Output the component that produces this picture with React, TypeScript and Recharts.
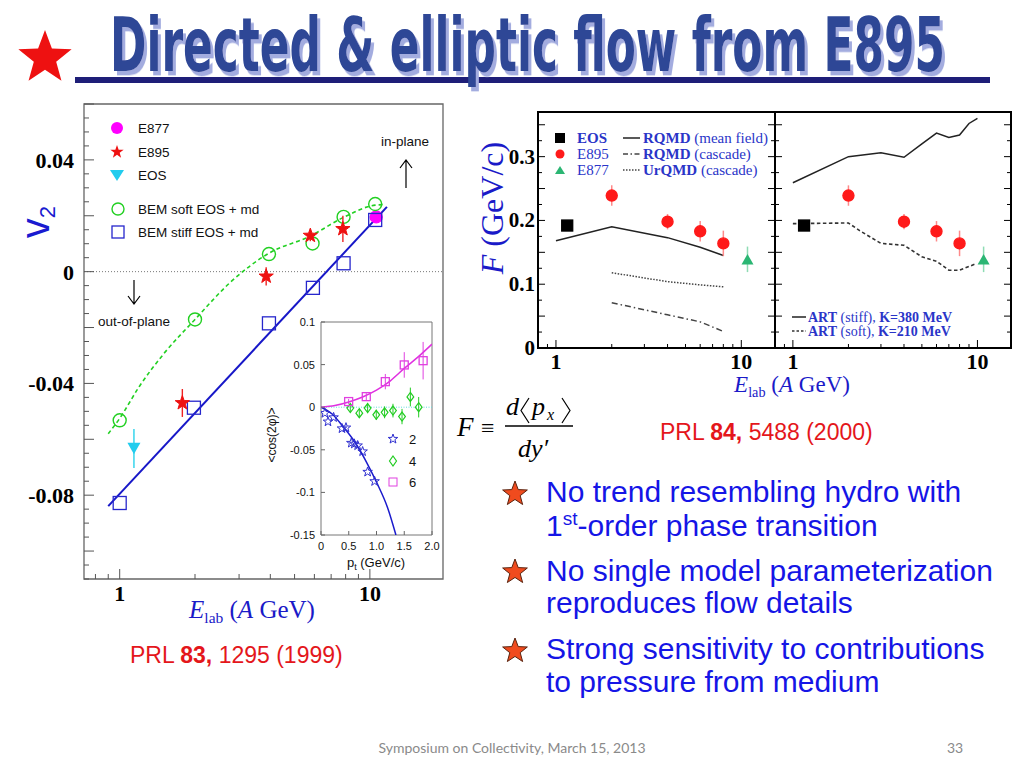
import React from 'react'
import {
  ComposedChart,
  Line,
  Scatter,
  XAxis,
  YAxis,
  ErrorBar,
  ReferenceArea,
  ReferenceLine,
} from 'recharts'

const SERIF = '"Liberation Serif", "DejaVu Serif", serif'
const SANS = '"Liberation Sans", Arial, sans-serif'

// ---------- left figure: v2 vs E_lab (PRL 83, 1295) ----------
const v2Domain = [-0.11, 0.06]
const eLabDomainLeft = [0.72, 19.6]
const e877V2 = [{ x: 10.6, y: 0.0196, e: 0.0015 }]
const e895V2 = [
  { x: 1.78, y: -0.047, e: 0.005 },
  { x: 3.85, y: -0.0017, e: 0.0033 },
  { x: 5.78, y: 0.0129, e: 0.002 },
  { x: 7.8, y: 0.0153, e: 0.0047 },
]
const eosV2 = [{ x: 1.14, y: -0.0633, e: 0.007 }]
const bemSoft = [
  { x: 1.0, y: -0.0532 },
  { x: 2.0, y: -0.0171 },
  { x: 3.95, y: 0.0063 },
  { x: 5.9, y: 0.0101 },
  { x: 7.85, y: 0.0196 },
  { x: 10.5, y: 0.0242 },
]
const bemSoftCurve = [
  { x: 0.9, y: -0.058 },
  { x: 1.0, y: -0.0525 },
  { x: 1.2, y: -0.041 },
  { x: 1.5, y: -0.0294 },
  { x: 2.0, y: -0.0171 },
  { x: 2.77, y: -0.0038 },
  { x: 3.95, y: 0.0066 },
  { x: 5.8, y: 0.0128 },
  { x: 7.84, y: 0.0194 },
  { x: 10.5, y: 0.0238 },
  { x: 11.5, y: 0.024 },
]
const bemStiff = [
  { x: 1.0, y: -0.0828 },
  { x: 1.98, y: -0.0487 },
  { x: 3.95, y: -0.0185 },
  { x: 5.92, y: -0.0058 },
  { x: 7.85, y: 0.003 },
  { x: 10.5, y: 0.0185 },
]
const bemStiffLine = [
  { x: 0.9, y: -0.0839 },
  { x: 11.7, y: 0.0232 },
]
const v2TickLabels = ['0.04', '0', '-0.04', '-0.08']
const eLabTicksLeft = [0.8, 0.9, 1, 2, 3, 4, 5, 6, 7, 8, 9, 10]
const eLabTickLabels = ['1', '10']

// ---------- inset: <cos(2phi)> vs pt ----------
const insetYDomain = [-0.15, 0.1]
const insetXDomain = [0, 2]
const insetE2 = [
  { x: 0.07, y: -0.007 },
  { x: 0.126, y: -0.017 },
  { x: 0.227, y: -0.012 },
  { x: 0.378, y: -0.025 },
  { x: 0.45, y: -0.024 },
  { x: 0.546, y: -0.042 },
  { x: 0.6, y: -0.043 },
  { x: 0.66, y: -0.045 },
  { x: 0.75, y: -0.052 },
  { x: 0.84, y: -0.076 },
  { x: 0.966, y: -0.087 },
]
const insetE2Curve = [
  { x: 0, y: 0 },
  { x: 0.2, y: -0.008 },
  { x: 0.4, y: -0.023 },
  { x: 0.6, y: -0.04 },
  { x: 0.8, y: -0.062 },
  { x: 1.0, y: -0.088 },
  { x: 1.2, y: -0.118 },
  { x: 1.35, y: -0.15 },
]
const insetE4 = [
  { x: 0.528, y: -0.001, e: 0.005 },
  { x: 0.69, y: -0.007, e: 0.005 },
  { x: 0.84, y: -0.001, e: 0.006 },
  { x: 0.996, y: -0.009, e: 0.006 },
  { x: 1.146, y: -0.006, e: 0.007 },
  { x: 1.297, y: -0.004, e: 0.008 },
  { x: 1.46, y: -0.011, e: 0.009 },
  { x: 1.61, y: 0.012, e: 0.011 },
  { x: 1.76, y: 0.0, e: 0.012 },
]
const insetE6 = [
  { x: 0.498, y: 0.0066, e: 0.003 },
  { x: 0.816, y: 0.0124, e: 0.004 },
  { x: 1.159, y: 0.03, e: 0.009 },
  { x: 1.5, y: 0.0496, e: 0.015 },
  { x: 1.84, y: 0.0546, e: 0.022 },
]
const insetE6Curve = [
  { x: 0, y: 0 },
  { x: 0.25, y: 0.002 },
  { x: 0.5, y: 0.0062 },
  { x: 0.75, y: 0.012 },
  { x: 1.0, y: 0.02 },
  { x: 1.25, y: 0.031 },
  { x: 1.5, y: 0.0455 },
  { x: 1.75, y: 0.059 },
  { x: 2.0, y: 0.074 },
]
const insetYLabels = ['0.1', '0.05', '0', '-0.05', '-0.1', '-0.15']
const insetXLabels = ['0', '0.5', '1.0', '1.5', '2.0']

// ---------- right figure: F vs E_lab (PRL 84, 5488) ----------
const fDomain = [0, 0.37]
const eLabDomainRight = [0.8, 15.2]
const eosF = [{ x: 1.15, y: 0.192 }]
const e895F = [
  { x: 2, y: 0.239, e: 0.016 },
  { x: 4, y: 0.198, e: 0.012 },
  { x: 6, y: 0.183, e: 0.016 },
  { x: 8, y: 0.164, e: 0.02 },
]
const e877F = [{ x: 10.8, y: 0.139, e: 0.02 }]
const rqmdMean = [
  { x: 1, y: 0.168 },
  { x: 2, y: 0.19 },
  { x: 4, y: 0.173 },
  { x: 6, y: 0.158 },
  { x: 8, y: 0.145 },
]
const rqmdCascade = [
  { x: 2, y: 0.071 },
  { x: 4, y: 0.052 },
  { x: 6, y: 0.041 },
  { x: 8, y: 0.026 },
]
const urqmdCascade = [
  { x: 2, y: 0.118 },
  { x: 4, y: 0.104 },
  { x: 6, y: 0.099 },
  { x: 8, y: 0.096 },
]
const artStiff = [
  { x: 1, y: 0.259 },
  { x: 2, y: 0.3 },
  { x: 3, y: 0.306 },
  { x: 4, y: 0.299 },
  { x: 5, y: 0.32 },
  { x: 6, y: 0.337 },
  { x: 7, y: 0.33 },
  { x: 8, y: 0.334 },
  { x: 9, y: 0.352 },
  { x: 10, y: 0.36 },
]
const artSoft = [
  { x: 1, y: 0.195 },
  { x: 2, y: 0.196 },
  { x: 2.3, y: 0.184 },
  { x: 3, y: 0.164 },
  { x: 4, y: 0.161 },
  { x: 5, y: 0.143 },
  { x: 6, y: 0.136 },
  { x: 7, y: 0.122 },
  { x: 8, y: 0.122 },
  { x: 9.8, y: 0.132 },
]
const fTickLabels = ['0', '0.1', '0.2', '0.3']
const eLabTicksRight = [0.9, 1, 2, 3, 4, 5, 6, 7, 8, 9, 10]

const bullets = [
  ['No trend resembling hydro with', '1st-order phase transition'],
  ['No single model parameterization', 'reproduces flow details'],
  ['Strong sensitivity to contributions', 'to pressure from medium'],
]

// ---------- helpers ----------
const near = (a: number, b: number) => Math.abs(a - b) < 1e-9
const range = (from: number, to: number, step: number) => {
  const out: number[] = []
  for (let i = Math.round(from / step); i <= Math.round(to / step); i++) out.push(Math.round(i * step * 1e6) / 1e6)
  return out
}
const v2Ticks = range(-0.11, 0.06, 0.005)
const fTicks = range(0, 0.35, 0.025)

function starPoints(cx: number, cy: number, R: number, inner = 0.4) {
  const pts: string[] = []
  for (let i = 0; i < 10; i++) {
    const r = i % 2 === 0 ? R : R * inner
    const a = -Math.PI / 2 + (i * Math.PI) / 5
    pts.push(`${(cx + r * Math.cos(a)).toFixed(2)},${(cy + r * Math.sin(a)).toFixed(2)}`)
  }
  return pts.join(' ')
}

const circleShape = (color: string, r: number, filled: boolean) => (p: any) => (
  <circle cx={p.cx} cy={p.cy} r={r} fill={filled ? color : 'none'} stroke={color} strokeWidth={1.4} />
)
const squareShape = (color: string, s: number, filled: boolean) => (p: any) => (
  <rect x={p.cx - s / 2} y={p.cy - s / 2} width={s} height={s} fill={filled ? color : 'none'} stroke={color} strokeWidth={1.3} />
)
const starShape = (color: string, R: number, filled: boolean) => (p: any) => (
  <polygon points={starPoints(p.cx, p.cy, R)} fill={filled ? color : 'none'} stroke={color} strokeWidth={1} />
)
const triShape = (color: string, s: number, down: boolean) => (p: any) => {
  const h = s * 0.87
  const d = down ? 1 : -1
  return (
    <polygon
      points={`${p.cx - s / 2},${p.cy - (d * h) / 2} ${p.cx + s / 2},${p.cy - (d * h) / 2} ${p.cx},${p.cy + (d * h) / 2}`}
      fill={color}
    />
  )
}
const diamondShape = (color: string, s: number) => (p: any) => (
  <polygon
    points={`${p.cx},${p.cy - s} ${p.cx + s * 0.75},${p.cy} ${p.cx},${p.cy + s} ${p.cx - s * 0.75},${p.cy}`}
    fill="none"
    stroke={color}
    strokeWidth={1.2}
  />
)

type TickCfg = {
  labels: string[]
  isMajor: (v: number) => boolean
  majorLen: number
  minorLen: number
  stroke: string
  sw: number
  gap: number
  dy: number
  font: React.CSSProperties
  mirror?: number
}

const yTick = (c: TickCfg) => (p: any) => {
  const v: number = p.payload.value
  const len = c.isMajor(v) ? c.majorLen : c.minorLen
  const label = c.labels.find((t) => near(Number(t), v))
  return (
    <g>
      <line x1={p.x} x2={p.x + len} y1={p.y} y2={p.y} stroke={c.stroke} strokeWidth={c.sw} />
      {c.mirror !== undefined && (
        <line x1={p.x + c.mirror} x2={p.x + c.mirror - len} y1={p.y} y2={p.y} stroke={c.stroke} strokeWidth={c.sw} />
      )}
      {label !== undefined && (
        <text x={p.x - c.gap} y={p.y + c.dy} textAnchor="end" style={c.font}>
          {label}
        </text>
      )}
    </g>
  )
}

const xTick = (c: TickCfg) => (p: any) => {
  const v: number = p.payload.value
  const len = c.isMajor(v) ? c.majorLen : c.minorLen
  const label = c.labels.find((t) => near(Number(t), v))
  return (
    <g>
      <line x1={p.x} x2={p.x} y1={p.y} y2={p.y - len} stroke={c.stroke} strokeWidth={c.sw} />
      {label !== undefined && (
        <text x={p.x} y={p.y + c.gap} textAnchor="middle" style={c.font}>
          {label}
        </text>
      )}
    </g>
  )
}

const boldSerif = (size: number): React.CSSProperties => ({ fontFamily: SERIF, fontWeight: 700, fontSize: size, fill: '#000' })
const sansSmall: React.CSSProperties = { fontFamily: SANS, fontSize: 11, fill: '#111' }

// ---------- charts ----------
function V2Chart() {
  return (
    <ComposedChart width={460} height={540} margin={{ top: 14, right: 17, bottom: 0, left: 0 }}>
      <XAxis
        type="number"
        dataKey="x"
        scale="log"
        domain={eLabDomainLeft}
        allowDataOverflow
        ticks={eLabTicksLeft}
        interval={0}
        tickSize={0}
        tickMargin={0}
        axisLine={false}
        tickLine={false}
        height={51}
        tick={xTick({
          labels: eLabTickLabels,
          isMajor: (v) => v === 1 || v === 10,
          majorLen: 10,
          minorLen: 5,
          stroke: '#555',
          sw: 1,
          gap: 22,
          dy: 0,
          font: boldSerif(22),
        })}
      />
      <YAxis
        type="number"
        dataKey="y"
        domain={v2Domain}
        allowDataOverflow
        ticks={v2Ticks}
        interval={0}
        tickSize={0}
        tickMargin={0}
        axisLine={false}
        tickLine={false}
        width={84}
        tick={yTick({
          labels: v2TickLabels,
          isMajor: (v) => near(Math.round(v / 0.02) * 0.02, v),
          majorLen: 10,
          minorLen: 5,
          stroke: '#555',
          sw: 1,
          gap: 10,
          dy: 8,
          font: boldSerif(22),
        })}
      />
      <ReferenceLine y={0} stroke="#777" strokeDasharray="1 2" ifOverflow="visible" />
      <Line data={bemSoftCurve} dataKey="y" type="monotone" stroke="#22d022" strokeWidth={1.6} strokeDasharray="4 3" dot={false} isAnimationActive={false} />
      <Line data={bemStiffLine} dataKey="y" type="linear" stroke="#1717c8" strokeWidth={2} dot={false} isAnimationActive={false} />
      <Scatter data={e877V2} shape={circleShape('#ff00ff', 6, true)} isAnimationActive={false}>
        <ErrorBar dataKey="e" direction="y" width={0} stroke="#ff66ff" strokeWidth={1.4} />
      </Scatter>
      <Scatter data={bemSoft} shape={circleShape('#22d022', 6.5, false)} isAnimationActive={false} />
      <Scatter data={bemStiff} shape={squareShape('#2626cc', 13, false)} isAnimationActive={false} />
      <Scatter data={e895V2} shape={starShape('#ee1111', 7.5, true)} isAnimationActive={false}>
        <ErrorBar dataKey="e" direction="y" width={0} stroke="#ee2222" strokeWidth={1.4} />
      </Scatter>
      <Scatter data={eosV2} shape={triShape('#22ccee', 13, true)} isAnimationActive={false}>
        <ErrorBar dataKey="e" direction="y" width={0} stroke="#44d8ee" strokeWidth={1.6} />
      </Scatter>
      <ReferenceArea
        x1={eLabDomainLeft[0]}
        x2={eLabDomainLeft[1]}
        y1={v2Domain[0]}
        y2={v2Domain[1]}
        fill="none"
        stroke="#666"
        strokeWidth={1.3}
        ifOverflow="visible"
      />
    </ComposedChart>
  )
}

function InsetChart() {
  return (
    <ComposedChart width={178} height={263} margin={{ top: 10, right: 8, bottom: 0, left: 0 }}>
      <XAxis
        type="number"
        dataKey="x"
        domain={insetXDomain}
        allowDataOverflow
        ticks={[0, 0.5, 1, 1.5, 2]}
        interval={0}
        tickSize={0}
        tickMargin={0}
        axisLine={false}
        tickLine={false}
        height={40}
        tick={xTick({
          labels: insetXLabels,
          isMajor: () => true,
          majorLen: 4,
          minorLen: 4,
          stroke: '#666',
          sw: 1,
          gap: 15,
          dy: 0,
          font: sansSmall,
        })}
      />
      <YAxis
        type="number"
        dataKey="y"
        domain={insetYDomain}
        allowDataOverflow
        ticks={[-0.15, -0.1, -0.05, 0, 0.05, 0.1]}
        interval={0}
        tickSize={0}
        tickMargin={0}
        axisLine={false}
        tickLine={false}
        width={59}
        tick={yTick({
          labels: insetYLabels,
          isMajor: () => true,
          majorLen: 4,
          minorLen: 4,
          stroke: '#666',
          sw: 1,
          gap: 6,
          dy: 4,
          font: sansSmall,
        })}
      />
      <ReferenceLine y={0} stroke="#66dddd" strokeDasharray="1 1.5" ifOverflow="visible" />
      <Line data={insetE2Curve} dataKey="y" type="monotone" stroke="#1a1acc" strokeWidth={1.5} dot={false} isAnimationActive={false} />
      <Line data={insetE6Curve} dataKey="y" type="monotone" stroke="#e030e0" strokeWidth={1.5} dot={false} isAnimationActive={false} />
      <Scatter data={insetE2} shape={starShape('#3030d0', 5, false)} isAnimationActive={false} />
      <Scatter data={insetE4} shape={diamondShape('#22cc22', 4.5)} isAnimationActive={false}>
        <ErrorBar dataKey="e" direction="y" width={0} stroke="#22cc22" strokeWidth={1} />
      </Scatter>
      <Scatter data={insetE6} shape={squareShape('#e040e0', 8, false)} isAnimationActive={false}>
        <ErrorBar dataKey="e" direction="y" width={0} stroke="#e040e0" strokeWidth={1} />
      </Scatter>
      <ReferenceArea
        x1={insetXDomain[0]}
        x2={insetXDomain[1]}
        y1={insetYDomain[0]}
        y2={insetYDomain[1]}
        fill="none"
        stroke="#777"
        strokeWidth={1}
        ifOverflow="visible"
      />
    </ComposedChart>
  )
}

const rightXTick = xTick({
  labels: eLabTickLabels,
  isMajor: (v) => v === 1 || v === 10,
  majorLen: 8,
  minorLen: 4,
  stroke: '#000',
  sw: 1,
  gap: 21,
  dy: 0,
  font: boldSerif(22),
})

const rightYTick = (labels: string[], plotWidth: number) =>
  yTick({
    labels,
    isMajor: (v) => near(Math.round(v / 0.05) * 0.05, v),
    majorLen: 7,
    minorLen: 4,
    stroke: '#000',
    sw: 1,
    gap: 3,
    dy: 7,
    font: boldSerif(21),
    mirror: plotWidth,
  })

function FlowPanelLeft() {
  return (
    <ComposedChart width={310} height={280} margin={{ top: 12, right: 5, bottom: 0, left: 0 }}>
      <XAxis
        type="number"
        dataKey="x"
        scale="log"
        domain={eLabDomainRight}
        allowDataOverflow
        ticks={eLabTicksRight}
        interval={0}
        tickSize={0}
        tickMargin={0}
        axisLine={false}
        tickLine={false}
        height={32}
        tick={rightXTick}
      />
      <YAxis
        type="number"
        dataKey="y"
        domain={fDomain}
        allowDataOverflow
        ticks={fTicks}
        interval={0}
        tickSize={0}
        tickMargin={0}
        axisLine={false}
        tickLine={false}
        width={68}
        tick={rightYTick(fTickLabels, 237)}
      />
      <Line data={rqmdMean} dataKey="y" type="linear" stroke="#222" strokeWidth={1.5} dot={false} isAnimationActive={false} />
      <Line data={rqmdCascade} dataKey="y" type="linear" stroke="#444" strokeWidth={1.5} strokeDasharray="6 3 1.5 3" dot={false} isAnimationActive={false} />
      <Line data={urqmdCascade} dataKey="y" type="linear" stroke="#444" strokeWidth={1.5} strokeDasharray="1.5 1.5" dot={false} isAnimationActive={false} />
      <Scatter data={eosF} shape={squareShape('#000', 11, true)} isAnimationActive={false} />
      <Scatter data={e895F} shape={circleShape('#ff1a1a', 5.5, true)} isAnimationActive={false}>
        <ErrorBar dataKey="e" direction="y" width={0} stroke="#ff8a8a" strokeWidth={1.5} />
      </Scatter>
      <Scatter data={e877F} shape={triShape('#2bb673', 12, false)} isAnimationActive={false}>
        <ErrorBar dataKey="e" direction="y" width={0} stroke="#8fdcb4" strokeWidth={1.5} />
      </Scatter>
      <ReferenceArea
        x1={eLabDomainRight[0]}
        x2={eLabDomainRight[1]}
        y1={fDomain[0]}
        y2={fDomain[1]}
        fill="none"
        stroke="#000"
        strokeWidth={2}
        ifOverflow="visible"
      />
    </ComposedChart>
  )
}

function FlowPanelRight() {
  return (
    <ComposedChart width={256} height={280} margin={{ top: 12, right: 10, bottom: 0, left: 0 }}>
      <XAxis
        type="number"
        dataKey="x"
        scale="log"
        domain={eLabDomainRight}
        allowDataOverflow
        ticks={eLabTicksRight}
        interval={0}
        tickSize={0}
        tickMargin={0}
        axisLine={false}
        tickLine={false}
        height={32}
        tick={rightXTick}
      />
      <YAxis
        type="number"
        dataKey="y"
        domain={fDomain}
        allowDataOverflow
        ticks={fTicks}
        interval={0}
        tickSize={0}
        tickMargin={0}
        axisLine={false}
        tickLine={false}
        width={10}
        tick={rightYTick([], 236)}
      />
      <Line data={artStiff} dataKey="y" type="linear" stroke="#222" strokeWidth={1.5} dot={false} isAnimationActive={false} />
      <Line data={artSoft} dataKey="y" type="linear" stroke="#333" strokeWidth={1.6} strokeDasharray="3.5 2.5" dot={false} isAnimationActive={false} />
      <Scatter data={eosF} shape={squareShape('#000', 11, true)} isAnimationActive={false} />
      <Scatter data={e895F} shape={circleShape('#ff1a1a', 5.5, true)} isAnimationActive={false}>
        <ErrorBar dataKey="e" direction="y" width={0} stroke="#ff8a8a" strokeWidth={1.5} />
      </Scatter>
      <Scatter data={e877F} shape={triShape('#2bb673', 12, false)} isAnimationActive={false}>
        <ErrorBar dataKey="e" direction="y" width={0} stroke="#8fdcb4" strokeWidth={1.5} />
      </Scatter>
      <ReferenceArea
        x1={eLabDomainRight[0]}
        x2={eLabDomainRight[1]}
        y1={fDomain[0]}
        y2={fDomain[1]}
        fill="none"
        stroke="#000"
        strokeWidth={2}
        ifOverflow="visible"
      />
    </ComposedChart>
  )
}

// ---------- slide decorations ----------
const ELab = ({ x, y, size }: { x: number; y: number; size: number }) => (
  <text x={x} y={y} textAnchor="middle" style={{ fontFamily: SERIF, fontSize: size, fill: '#1a1ac8' }}>
    <tspan fontStyle="italic">E</tspan>
    <tspan fontSize={size * 0.62} dy={size * 0.2}>
      lab
    </tspan>
    <tspan dy={-size * 0.2}> (</tspan>
    <tspan fontStyle="italic">A</tspan>
    <tspan> GeV)</tspan>
  </text>
)

const TITLE_FONT = '"Liberation Sans Narrow", "DejaVu Sans Condensed", "Liberation Sans", sans-serif'

function Overlay() {
  const legSans: React.CSSProperties = { fontFamily: SANS, fontSize: 13.5, fill: '#111' }
  const legBlue: React.CSSProperties = { fontFamily: SERIF, fontSize: 15, fill: '#2a35c8' }
  const legBlueSm: React.CSSProperties = { fontFamily: SERIF, fontSize: 14, fill: '#2a35c8' }
  const bulletFont: React.CSSProperties = { fontFamily: SANS, fontSize: 30, fill: '#1515e6' }
  const red: React.CSSProperties = { fontFamily: SANS, fontSize: 23, fill: '#e4161b' }
  const bulletY = [[502, 536], [581, 613], [659, 692]]
  const starY = [494, 572, 651]
  return (
    <svg width={1024} height={768} style={{ position: 'absolute', left: 0, top: 0, pointerEvents: 'none' }}>
      <defs>
        <filter id="titleShadow" x="-5%" y="-20%" width="110%" height="150%">
          <feDropShadow dx={3} dy={3} stdDeviation={0.3} floodColor="#a3acdf" floodOpacity={1} />
        </filter>
      </defs>
      {/* title */}
      <polygon points={starPoints(45, 58, 28, 0.42)} fill="#ee1111" />
      <rect x={75} y={77} width={915} height={6} fill="#1e1e78" />
      <g transform="translate(110,71) scale(1,1.45)">
        <text
          x={0}
          y={0}
          textLength={835}
          lengthAdjust="spacingAndGlyphs"
          filter="url(#titleShadow)"
          style={{ fontFamily: TITLE_FONT, fontWeight: 700, fontSize: 52, fill: '#2e4796' }}
        >
          Directed &amp; elliptic flow from E895
        </text>
      </g>

      {/* left figure legend & annotations */}
      <circle cx={117} cy={128} r={6} fill="#ff00ff" />
      <text x={138} y={133} style={legSans}>E877</text>
      <polygon points={starPoints(117, 152, 7)} fill="#ee1111" />
      <text x={138} y={157} style={legSans}>E895</text>
      <polygon points="110,170 124,170 117,181" fill="#22ccee" />
      <text x={138} y={180} style={legSans}>EOS</text>
      <circle cx={118} cy={209} r={6} fill="none" stroke="#22d022" strokeWidth={1.4} />
      <text x={138} y={214} style={legSans}>BEM soft EOS + md</text>
      <rect x={112} y={226} width={12} height={12} fill="none" stroke="#2626cc" strokeWidth={1.3} />
      <text x={138} y={237} style={legSans}>BEM stiff EOS + md</text>
      <text x={405} y={146} textAnchor="middle" style={legSans}>in-plane</text>
      <path d="M406 188 V160 M400 168 L406 160 L412 168" stroke="#000" strokeWidth={1.2} fill="none" />
      <text x={134} y={326} textAnchor="middle" style={legSans}>out-of-plane</text>
      <path d="M134 280 V304 M128 296 L134 304 L140 296" stroke="#000" strokeWidth={1.2} fill="none" />
      <text transform="translate(49,222) rotate(-90)" textAnchor="middle" style={{ fontFamily: SANS, fontSize: 40, fill: '#1a1ad0' }}>
        v<tspan fontSize={22} dy={6}>2</tspan>
      </text>
      <ELab x={252} y={618} size={25} />
      <text x={130} y={663} style={red}>
        PRL <tspan fontWeight={700}>83,</tspan> 1295 (1999)
      </text>

      {/* inset legend & labels */}
      <polygon points={starPoints(393, 439, 5)} fill="none" stroke="#3030d0" />
      <text x={409} y={444} style={{ fontFamily: SANS, fontSize: 13, fill: '#111' }}>2</text>
      <polygon points="393,456 396.5,461 393,466 389.5,461" fill="none" stroke="#22cc22" strokeWidth={1.2} />
      <text x={409} y={466} style={{ fontFamily: SANS, fontSize: 13, fill: '#111' }}>4</text>
      <rect x={389} y={478} width={8} height={8} fill="none" stroke="#e040e0" />
      <text x={409} y={487} style={{ fontFamily: SANS, fontSize: 13, fill: '#111' }}>6</text>
      <text transform="translate(276,435) rotate(-90)" textAnchor="middle" style={{ fontFamily: SANS, fontSize: 12, fill: '#111' }}>
        {'<cos(2φ)>'}
      </text>
      <text x={376} y={567} textAnchor="middle" style={{ fontFamily: SANS, fontSize: 13, fill: '#111' }}>
        p<tspan fontSize={9} dy={3}>t</tspan>
        <tspan dy={-3}> (GeV/c)</tspan>
      </text>

      {/* right figure legends & labels */}
      <rect x={555} y={133} width={10} height={10} fill="#000" />
      <text x={577} y={143} style={legBlue}><tspan fontWeight={700}>EOS</tspan></text>
      <circle cx={560} cy={154} r={4.5} fill="#ff1a1a" />
      <text x={577} y={159} style={legBlue}>E895</text>
      <polygon points="555,174 565,174 560,166" fill="#2bb673" />
      <text x={577} y={175} style={legBlue}>E877</text>
      <line x1={623} x2={640} y1={138} y2={138} stroke="#222" strokeWidth={1.5} />
      <text x={643} y={143} style={legBlue}><tspan fontWeight={700}>RQMD</tspan> (mean field)</text>
      <line x1={623} x2={640} y1={154} y2={154} stroke="#444" strokeWidth={1.5} strokeDasharray="5 2.5 1.5 2.5" />
      <text x={643} y={159} style={legBlue}><tspan fontWeight={700}>RQMD</tspan> (cascade)</text>
      <line x1={623} x2={640} y1={170} y2={170} stroke="#444" strokeWidth={1.5} strokeDasharray="1.5 1.5" />
      <text x={643} y={175} style={legBlue}><tspan fontWeight={700}>UrQMD</tspan> (cascade)</text>
      <line x1={792} x2={806} y1={317} y2={317} stroke="#222" strokeWidth={1.5} />
      <text x={808} y={321.5} style={legBlueSm}><tspan fontWeight={700}>ART</tspan> (stiff), <tspan fontWeight={700}>K=380 MeV</tspan></text>
      <line x1={792} x2={806} y1={331} y2={331} stroke="#333" strokeWidth={1.5} strokeDasharray="2.5 2" />
      <text x={808} y={335.5} style={legBlueSm}><tspan fontWeight={700}>ART</tspan> (soft), <tspan fontWeight={700}>K=210 MeV</tspan></text>
      <text transform="translate(503,208) rotate(-90)" textAnchor="middle" style={{ fontFamily: SERIF, fontSize: 32, fill: '#1a1ac8' }}>
        <tspan fontStyle="italic">F</tspan> (GeV/c)
      </text>
      <ELab x={792} y={392} size={23} />
      <text x={660} y={440} style={red}>
        PRL <tspan fontWeight={700}>84,</tspan> 5488 (2000)
      </text>

      {/* formula */}
      <text x={457} y={436} style={{ fontFamily: SERIF, fontStyle: 'italic', fontSize: 27 }}>F</text>
      <text x={481} y={436} style={{ fontFamily: SERIF, fontSize: 24 }}>≡</text>
      <text x={506} y={415} style={{ fontFamily: SERIF, fontStyle: 'italic', fontSize: 26 }}>d</text>
      <polyline points="529,398 521,410.5 529,423" fill="none" stroke="#000" strokeWidth={1.2} />
      <text x={532} y={415} style={{ fontFamily: SERIF, fontStyle: 'italic', fontSize: 26 }}>p</text>
      <text x={547} y={420} style={{ fontFamily: SERIF, fontStyle: 'italic', fontSize: 16 }}>x</text>
      <polyline points="562,398 570,410.5 562,423" fill="none" stroke="#000" strokeWidth={1.2} />
      <line x1={505} x2={573} y1={426} y2={426} stroke="#000" strokeWidth={1.3} />
      <text x={518} y={457} style={{ fontFamily: SERIF, fontStyle: 'italic', fontSize: 26 }}>dy′</text>

      {/* bullets */}
      {bullets.map((b, i) => (
        <g key={i}>
          <polygon points={starPoints(515, starY[i], 13, 0.42)} fill="#f04b1e" stroke="#5a2410" strokeWidth={1} />
          <text x={546} y={bulletY[i][0]} style={bulletFont}>{b[0]}</text>
          {b[1].startsWith('1st') ? (
            <text x={546} y={bulletY[i][1]} style={bulletFont}>
              1<tspan fontSize={19} dy={-11}>st</tspan>
              <tspan dy={11}>-order phase transition</tspan>
            </text>
          ) : (
            <text x={546} y={bulletY[i][1]} style={bulletFont}>{b[1]}</text>
          )}
        </g>
      ))}

      {/* footer */}
      <text x={512} y={753} textAnchor="middle" style={{ fontFamily: 'Lato, "Open Sans", sans-serif', fontSize: 14, fill: '#8a8a8a' }}>
        Symposium on Collectivity, March 15, 2013
      </text>
      <text x={955} y={753} textAnchor="middle" style={{ fontFamily: 'Lato, "Open Sans", sans-serif', fontSize: 14, fill: '#8a8a8a' }}>
        33
      </text>
    </svg>
  )
}

export default function App() {
  return (
    <div style={{ position: 'absolute', left: 0, top: 0, width: 1024, height: 768, background: '#fff', overflow: 'hidden' }}>
      <div style={{ position: 'absolute', left: 0, top: 90 }}>
        <V2Chart />
      </div>
      <div style={{ position: 'absolute', left: 262, top: 312 }}>
        <InsetChart />
      </div>
      <div style={{ position: 'absolute', left: 470, top: 100 }}>
        <FlowPanelLeft />
      </div>
      <div style={{ position: 'absolute', left: 765, top: 100 }}>
        <FlowPanelRight />
      </div>
      <Overlay />
    </div>
  )
}
